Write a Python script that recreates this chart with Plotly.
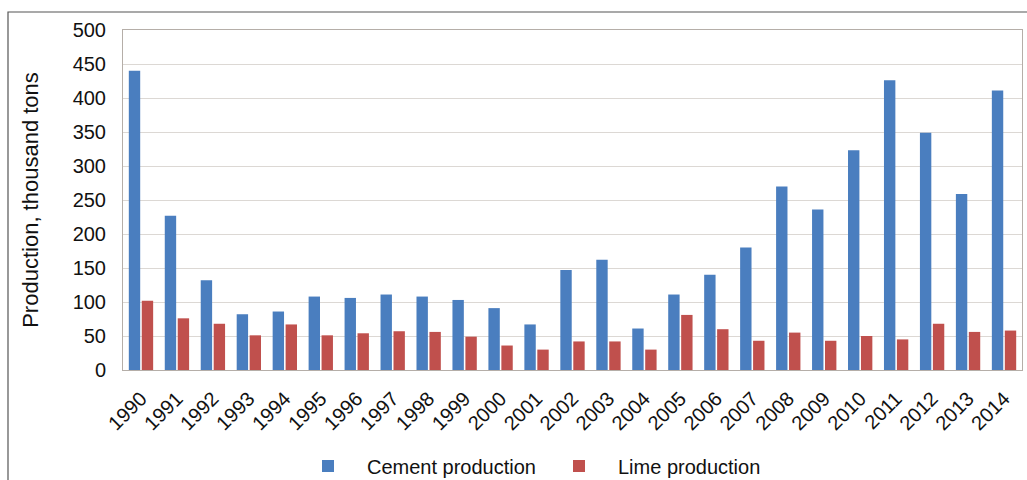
import plotly.graph_objects as go

years = [str(y) for y in range(1990, 2015)]
cement = [440, 227, 132, 82, 86, 108, 106, 111, 108, 103, 91, 67, 147, 162, 61, 111,
          140, 180, 270, 236, 323, 426, 349, 259, 411]
lime = [102, 76, 68, 51, 67, 51, 54, 57, 56, 49, 36, 30, 42, 42, 30, 81,
        60, 43, 55, 43, 50, 45, 68, 56, 58]
y_ticks = list(range(0, 501, 50))

W, H = 1027, 480
ML, MR, MT, MB = 123, 5, 30, 110
PW, PH = W - ML - MR, H - MT - MB


def px_x(x):
    return (x - ML) / PW


def px_y(y):
    return (H - MB - y) / PH


fig = go.Figure()
fig.add_trace(go.Bar(x=years, y=cement, name="Cement production",
                     marker=dict(color="#4A7EBF", line=dict(width=0))))
fig.add_trace(go.Bar(x=years, y=lime, name="Lime production",
                     marker=dict(color="#C0504D", line=dict(width=0))))

fig.update_layout(
    width=W, height=H,
    margin=dict(l=ML, r=MR, t=MT, b=MB, autoexpand=False),
    paper_bgcolor="white", plot_bgcolor="white",
    font=dict(family="Liberation Sans, Arial, sans-serif", color="#111", size=19),
    barmode="group", bargap=0.28, bargroupgap=0.12,
    showlegend=True,
    legend=dict(orientation="h", x=px_x(289), xanchor="left", y=px_y(466), yanchor="middle",
                font=dict(size=20), itemwidth=68, entrywidth=168, bgcolor="rgba(0,0,0,0)"),
    xaxis=dict(tickangle=-45, tickfont=dict(size=20), showline=True, linecolor="#b5aea8",
               mirror=True, ticks="", fixedrange=True, automargin=False,
               ticklabelstandoff=8),
    yaxis=dict(range=[0, 500], tickvals=y_ticks, showgrid=True, gridcolor="#dcd8d4",
               showline=True, linecolor="#b5aea8", mirror=True, ticks="",
               tickfont=dict(size=20), ticklabelstandoff=12, automargin=False,
               fixedrange=True,
               title=dict(text="Production, thousand tons", font=dict(size=22), standoff=27)),
)

fig.add_shape(type="rect", xref="paper", yref="paper",
              x0=px_x(8), x1=px_x(1040), y0=px_y(500), y1=px_y(12),
              line=dict(color="#555", width=1.2), fillcolor="rgba(0,0,0,0)", layer="below")

fig.write_html("out.html", config={"displayModeBar": False},
               post_script="document.body.style.margin='0';document.body.style.overflow='hidden';")
